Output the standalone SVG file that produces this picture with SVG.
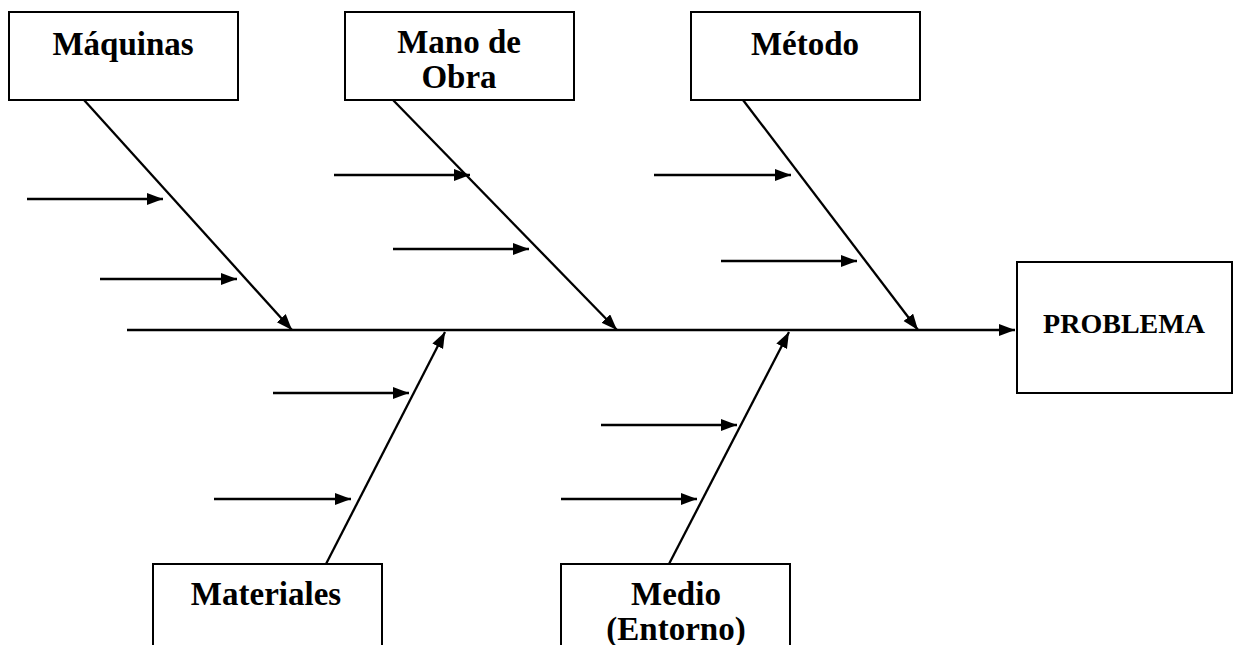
<svg xmlns="http://www.w3.org/2000/svg" width="1237" height="645" viewBox="0 0 1237 645">
<style>
.box{fill:#fff;stroke:#000;stroke-width:2}
.lbl{font-family:"Liberation Serif","Times New Roman",serif;font-weight:bold;font-size:33px;fill:#000;text-anchor:middle}
.conn line{stroke:#000;stroke-width:2.3}
</style>
<defs>
<marker id="ah" markerUnits="userSpaceOnUse" markerWidth="17" markerHeight="13" refX="16" refY="6" orient="auto">
<path d="M0,0 L16,6 L0,12 z" fill="#000"/>
</marker>
</defs>
<g class="conn" id="connectors">
<line x1="127" y1="330" x2="1015" y2="330" marker-end="url(#ah)"/>
<line x1="84" y1="100" x2="292" y2="330" marker-end="url(#ah)"/>
<line x1="393" y1="100" x2="617" y2="330" marker-end="url(#ah)"/>
<line x1="743" y1="100" x2="918" y2="330" marker-end="url(#ah)"/>
<line x1="326" y1="564" x2="445" y2="332" marker-end="url(#ah)"/>
<line x1="669" y1="564" x2="789" y2="332" marker-end="url(#ah)"/>
<line x1="27" y1="199" x2="163" y2="199" marker-end="url(#ah)"/>
<line x1="100" y1="279" x2="237" y2="279" marker-end="url(#ah)"/>
<line x1="334" y1="175" x2="470" y2="175" marker-end="url(#ah)"/>
<line x1="393" y1="249" x2="529" y2="249" marker-end="url(#ah)"/>
<line x1="654" y1="175" x2="791" y2="175" marker-end="url(#ah)"/>
<line x1="721" y1="261" x2="857" y2="261" marker-end="url(#ah)"/>
<line x1="273" y1="393" x2="409" y2="393" marker-end="url(#ah)"/>
<line x1="214" y1="499" x2="351" y2="499" marker-end="url(#ah)"/>
<line x1="601" y1="425" x2="737" y2="425" marker-end="url(#ah)"/>
<line x1="561" y1="499" x2="697" y2="499" marker-end="url(#ah)"/>
</g>
<g id="maquinas">
<rect class="box" x="9" y="12" width="229" height="88"/>
<text class="lbl" x="123" y="55">Máquinas</text>
</g>
<g id="mano-de-obra">
<rect class="box" x="345" y="12" width="229" height="88"/>
<text class="lbl" x="459" y="53">Mano de</text>
<text class="lbl" x="459" y="88">Obra</text>
</g>
<g id="metodo">
<rect class="box" x="691" y="12" width="229" height="88"/>
<text class="lbl" x="805" y="55">Método</text>
</g>
<g id="problema">
<rect class="box" x="1017" y="262" width="215" height="131"/>
<text class="lbl" x="1124" y="333" style="font-size:28px">PROBLEMA</text>
</g>
<g id="materiales">
<rect class="box" x="153" y="564" width="229" height="100"/>
<text class="lbl" x="266" y="605">Materiales</text>
</g>
<g id="medio">
<rect class="box" x="561" y="564" width="229" height="100"/>
<text class="lbl" x="676" y="605">Medio</text>
<text class="lbl" x="676" y="640">(Entorno)</text>
</g>
</svg>
